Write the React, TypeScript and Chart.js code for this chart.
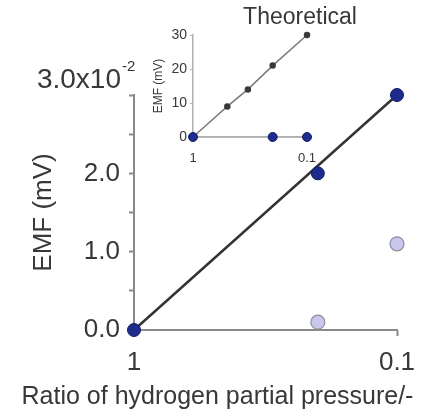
import React, { useEffect, useRef } from "react";
import { Chart, registerables } from "chart.js";

Chart.register(...registerables);

const FONT = "'Liberation Sans', Arial, Helvetica, sans-serif";
const TEXT = "#383838";
const AXIS = "#8a8a8a";

// Main panel: measured EMF versus hydrogen partial-pressure ratio
const ratioTicks = [1, 0.1];
const ratioTickLabels = ["1", "0.1"];
const emfTicks = [0, 0.5, 1, 1.5, 2, 2.5, 3];
const emfTickLabels = ["0.0", "", "1.0", "", "2.0", "", ""];
const emfTopLabel = "3.0x10";
const emfTopExponent = "-2";

const measuredRatio = [1, 0.2, 0.1];
const measuredEmf = [0, 2.0, 3.0];
const secondRatio = [0.2, 0.1];
const secondEmf = [0.1, 1.1];
const fitRatio = [1, 0.1];
const fitEmf = [0, 3.0];

// Inset: theoretical Nernst EMF
const insetTitle = "Theoretical";
const theoryRatio = [1, 0.5, 0.33, 0.2, 0.1];
const theoryEmf = [0, 9, 14, 21, 30];
const insetMeasuredRatio = [1, 0.2, 0.1];
const insetMeasuredEmf = [0, 0, 0];
const insetEmfTicks = [0, 10, 20, 30];
const insetEmfTickLabels = ["0", "10", "20", "30"];

const xTitle = "Ratio of hydrogen partial pressure/-";
const yTitle = "EMF (mV)";

const pts = (xs: number[], ys: number[]) => xs.map((x, i) => ({ x, y: ys[i] }));

// "3.0x10^-2" multiplier drawn above the top of the EMF axis
const exponentLabel = {
  id: "exponentLabel",
  afterDraw(chart: any) {
    const ys = chart.scales.y;
    const top = ys.getPixelForValue(emfTicks[emfTicks.length - 1]);
    const ctx = chart.ctx;
    ctx.save();
    ctx.fillStyle = TEXT;
    ctx.textBaseline = "alphabetic";
    ctx.textAlign = "right";
    ctx.font = `28px ${FONT}`;
    const xr = ys.right - 13;
    ctx.fillText(emfTopLabel, xr, top - 7);
    ctx.textAlign = "left";
    ctx.font = `15px ${FONT}`;
    ctx.fillText(emfTopExponent, xr + 1, top - 24);
    ctx.restore();
  },
};

// Centred caption across the whole canvas width
const caption = (id: string, text: string, size: number, yCenter: number) => ({
  id,
  afterDraw(chart: any) {
    const ctx = chart.ctx;
    ctx.save();
    ctx.fillStyle = TEXT;
    ctx.font = `${size}px ${FONT}`;
    ctx.textAlign = "center";
    ctx.textBaseline = "middle";
    ctx.fillText(text, chart.width / 2, yCenter);
    ctx.restore();
  },
});

export default function App() {
  const mainRef = useRef<HTMLCanvasElement>(null);
  const insetRef = useRef<HTMLCanvasElement>(null);

  useEffect(() => {
    Chart.defaults.font.family = FONT;
    const main = new Chart(mainRef.current!, {
      type: "scatter",
      data: {
        datasets: [
          {
            label: "Measured",
            data: pts(measuredRatio, measuredEmf),
            pointRadius: 6.5,
            backgroundColor: "#1d2b8c",
            borderColor: "#121d62",
            borderWidth: 1,
            showLine: false,
            clip: false,
          },
          {
            label: "Second",
            data: pts(secondRatio, secondEmf),
            pointRadius: 7,
            backgroundColor: "#cac7ee",
            borderColor: "#8e8e9e",
            borderWidth: 1.2,
            showLine: false,
            clip: false,
          },
          {
            label: "Fit",
            data: pts(fitRatio, fitEmf),
            showLine: true,
            pointRadius: 0,
            borderColor: "#333333",
            borderWidth: 2.5,
            clip: false,
          },
        ],
      } as any,
      options: {
        responsive: false,
        animation: false,
        devicePixelRatio: 1,
        layout: { padding: { top: 95, right: 38, left: 0, bottom: 30 } },
        plugins: {
          legend: { display: false },
          tooltip: { enabled: false },
        },
        scales: {
          x: {
            type: "logarithmic",
            min: 0.1,
            max: 1,
            reverse: true,
            afterBuildTicks: (s: any) => {
              s.ticks = ratioTicks.map((v) => ({ value: v }));
            },
            afterFit: (s: any) => {
              s.height = 52;
            },
            ticks: {
              callback: (_v: any, i: number) => ratioTickLabels[i],
              color: TEXT,
              font: { family: FONT, size: 26 },
              padding: 11,
              maxRotation: 0,
              autoSkip: false,
            },
            grid: { drawOnChartArea: false, drawTicks: true, tickLength: 6, tickColor: AXIS, tickWidth: 2 },
            border: { display: true, color: AXIS, width: 2 },
          },
          y: {
            min: 0,
            max: 3,
            afterBuildTicks: (s: any) => {
              s.ticks = emfTicks.map((v) => ({ value: v }));
            },
            afterFit: (s: any) => {
              s.width = 134;
            },
            ticks: {
              callback: (_v: any, i: number) => emfTickLabels[i],
              color: TEXT,
              font: { family: FONT, size: 26 },
              padding: 9,
              autoSkip: false,
            },
            grid: { drawOnChartArea: false, drawTicks: true, tickLength: 5, tickColor: AXIS, tickWidth: 2 },
            border: { display: true, color: AXIS, width: 2 },
            title: {
              display: true,
              text: yTitle,
              color: TEXT,
              font: { family: FONT, size: 26 },
              padding: { top: 28, bottom: 0 },
            },
          },
        },
      } as any,
      plugins: [exponentLabel, caption("xCaption", xTitle, 25, 397)],
    });

    const inset = new Chart(insetRef.current!, {
      type: "scatter",
      data: {
        datasets: [
          {
            label: "Measured",
            data: pts(insetMeasuredRatio, insetMeasuredEmf),
            showLine: true,
            borderColor: "#b0b0b0",
            borderWidth: 1.5,
            pointRadius: 4.5,
            backgroundColor: "#1f2d8e",
            pointBorderColor: "#16206a",
            pointBorderWidth: 1,
            clip: false,
          },
          {
            label: insetTitle,
            data: pts(theoryRatio, theoryEmf),
            showLine: true,
            borderColor: "#7a7a7a",
            borderWidth: 1.5,
            pointRadius: 2.5,
            backgroundColor: "#3a3a3a",
            pointBorderColor: "#3a3a3a",
            clip: false,
          },
        ],
      } as any,
      options: {
        responsive: false,
        animation: false,
        devicePixelRatio: 1,
        layout: { padding: { top: 35, right: 148, left: 0, bottom: 0 } },
        plugins: {
          legend: { display: false },
          tooltip: { enabled: false },
        },
        scales: {
          x: {
            type: "logarithmic",
            min: 0.1,
            max: 1,
            reverse: true,
            afterBuildTicks: (s: any) => {
              s.ticks = ratioTicks.map((v) => ({ value: v }));
            },
            afterFit: (s: any) => {
              s.height = 38;
            },
            ticks: {
              callback: (_v: any, i: number) => ratioTickLabels[i],
              color: TEXT,
              font: { family: FONT, size: 13 },
              padding: 14,
              maxRotation: 0,
              autoSkip: false,
            },
            grid: { drawOnChartArea: false, drawTicks: false },
            border: { display: true, color: "#b0b0b0", width: 1.5 },
          },
          y: {
            min: 0,
            max: 30,
            afterBuildTicks: (s: any) => {
              s.ticks = insetEmfTicks.map((v) => ({ value: v }));
            },
            afterFit: (s: any) => {
              s.width = 48;
            },
            ticks: {
              callback: (_v: any, i: number) => insetEmfTickLabels[i],
              color: TEXT,
              font: { family: FONT, size: 14 },
              padding: 3,
              autoSkip: false,
            },
            grid: { drawOnChartArea: false, drawTicks: true, tickLength: 3, tickColor: "#b0b0b0", tickWidth: 1 },
            border: { display: true, color: "#b0b0b0", width: 1.5 },
            title: {
              display: true,
              text: yTitle,
              color: TEXT,
              font: { family: FONT, size: 12 },
              padding: { top: 6, bottom: 0 },
            },
          },
        },
      } as any,
      plugins: [caption("insetCaption", insetTitle, 23, 18)],
    });

    return () => {
      main.destroy();
      inset.destroy();
    };
  }, []);

  return (
    <div
      style={{
        position: "fixed",
        left: 0,
        top: 0,
        width: 435,
        height: 412,
        overflow: "hidden",
        background: "#fff",
      }}
    >
      <canvas
        ref={mainRef}
        width={435}
        height={412}
        style={{ position: "absolute", left: 0, top: 0, width: 435, height: 412 }}
      />
      <canvas
        ref={insetRef}
        width={310}
        height={175}
        style={{ position: "absolute", left: 145, top: 0, width: 310, height: 175 }}
      />
    </div>
  );
}
